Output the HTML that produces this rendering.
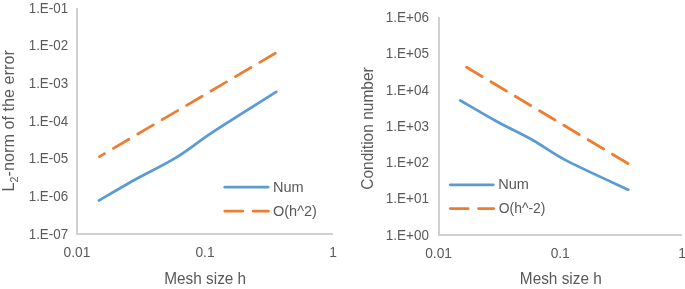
<!DOCTYPE html>
<html>
<head>
<meta charset="utf-8">
<style>
html,body{margin:0;padding:0;background:#fff;}
body{width:685px;height:289px;overflow:hidden;}
svg{display:block;will-change:transform;}
text{font-family:"Liberation Sans",sans-serif;fill:#595959;}
.tk{font-size:14.5px;}
.tt{font-size:16px;}
.lg{font-size:14.5px;}
</style>
</head>
<body>
<svg width="685" height="289" viewBox="0 0 685 289">
<!-- ===== Chart 1 ===== -->
<g fill="none" stroke="#d0d0d0" stroke-width="2">
  <polyline points="77,8 77,234 333,234"/>
</g>
<g class="tk" text-anchor="end" transform="translate(68.1,0) scale(0.922,1) translate(-68.1,0)">
  <text x="68.1" y="12.6">1.E-01</text>
  <text x="68.1" y="50.3">1.E-02</text>
  <text x="68.1" y="88.0">1.E-03</text>
  <text x="68.1" y="125.8">1.E-04</text>
  <text x="68.1" y="163.5">1.E-05</text>
  <text x="68.1" y="201.2">1.E-06</text>
  <text x="68.1" y="238.9">1.E-07</text>
</g>
<g class="tk" text-anchor="middle">
  <text transform="translate(77,256.8) scale(0.95,1)">0.01</text>
  <text transform="translate(205,256.8) scale(0.95,1)">0.1</text>
  <text transform="translate(333,256.8) scale(0.95,1)">1</text>
</g>
<text class="tt" transform="translate(205.2,283.7) scale(0.96,1)" text-anchor="middle">Mesh size h</text>
<text class="tt" transform="translate(14.4,120.8) rotate(-90) scale(1.015,1)" text-anchor="middle">L<tspan font-size="10.5" dy="3.8">2</tspan><tspan dy="-3.8">-norm of the error</tspan></text>

<path fill="none" stroke="#5B9BD5" stroke-width="2.75" stroke-linecap="round" stroke-linejoin="round"
  d="M99.00,200.49 C105.42,196.79 124.67,185.44 137.50,178.30 C150.33,171.16 163.15,165.52 176.00,157.63 C188.85,149.74 197.88,141.90 214.60,130.95 C231.32,120.00 266.02,98.43 276.30,91.93"/>
<line x1="275.3" y1="53.2" x2="99.4" y2="156.6" stroke="#ED7D31" stroke-width="2.75" stroke-linecap="round" stroke-dasharray="18 10.3"/>

<!-- legend 1 -->
<line x1="224.8" y1="187.2" x2="268" y2="187.2" stroke="#5B9BD5" stroke-width="2.75" stroke-linecap="round"/>
<line x1="224.8" y1="211" x2="268.5" y2="211" stroke="#ED7D31" stroke-width="2.75" stroke-linecap="round" stroke-dasharray="18 10.3"/>
<text class="lg" x="273" y="191.6">Num</text>
<text class="lg" x="273" y="215.6">O(h^2)</text>

<!-- ===== Chart 2 ===== -->
<g fill="none" stroke="#d0d0d0" stroke-width="2">
  <polyline points="439,17 439,235 682,235"/>
</g>
<g class="tk" text-anchor="end" transform="translate(428.9,0) scale(0.931,1) translate(-428.9,0)">
  <text x="428.9" y="21.9">1.E+06</text>
  <text x="428.9" y="58.2">1.E+05</text>
  <text x="428.9" y="94.6">1.E+04</text>
  <text x="428.9" y="130.9">1.E+03</text>
  <text x="428.9" y="167.2">1.E+02</text>
  <text x="428.9" y="203.5">1.E+01</text>
  <text x="428.9" y="239.9">1.E+00</text>
</g>
<g class="tk" text-anchor="middle">
  <text transform="translate(438.6,257.6) scale(0.95,1)">0.01</text>
  <text transform="translate(560.2,257.6) scale(0.95,1)">0.1</text>
  <text transform="translate(682,257.6) scale(0.95,1)">1</text>
</g>
<text class="tt" transform="translate(560.8,284) scale(0.96,1)" text-anchor="middle">Mesh size h</text>
<text class="tt" transform="translate(372.7,128.5) rotate(-90) scale(0.97,1)" text-anchor="middle">Condition number</text>

<path fill="none" stroke="#5B9BD5" stroke-width="2.75" stroke-linecap="round" stroke-linejoin="round"
  d="M460.30,100.47 C466.32,103.94 484.28,114.67 496.40,121.31 C508.52,127.95 521.23,133.68 533.00,140.28 C544.77,146.88 551.13,152.67 567.00,160.90 C582.87,169.13 618.00,184.89 628.20,189.69"/>
<line x1="466.6" y1="67.3" x2="628.1" y2="163.6" stroke="#ED7D31" stroke-width="2.75" stroke-linecap="round" stroke-dasharray="18 10.3"/>

<!-- legend 2 -->
<line x1="450.2" y1="184.8" x2="493.3" y2="184.8" stroke="#5B9BD5" stroke-width="2.75" stroke-linecap="round"/>
<line x1="450.2" y1="208.5" x2="493.8" y2="208.5" stroke="#ED7D31" stroke-width="2.75" stroke-linecap="round" stroke-dasharray="18 10.3"/>
<text class="lg" x="498.3" y="188.6">Num</text>
<text class="lg" transform="translate(498.7,212.6) scale(0.96,1)">O(h^-2)</text>
</svg>
</body>
</html>
